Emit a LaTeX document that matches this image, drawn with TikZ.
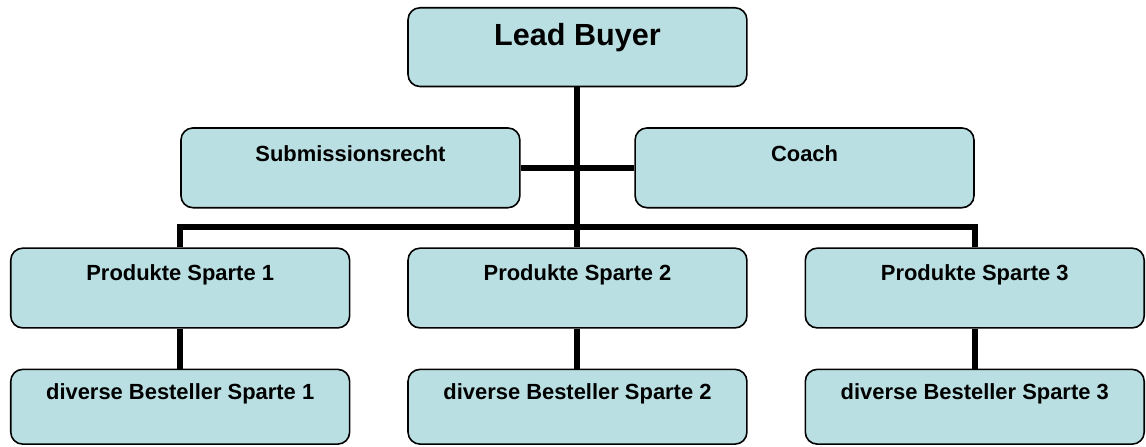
\documentclass[tikz,border=0pt]{standalone}
\usepackage{fontspec}
\setmainfont{Liberation Sans}
\usetikzlibrary{positioning}
\definecolor{OrgFill}{HTML}{B9DFE2}

\begin{document}
\begin{tikzpicture}[
  font=\bfseries\fontsize{16.5}{19}\selectfont,
  unit/.style={draw=black, line width=1.2pt, rounded corners=9pt,
               fill=OrgFill, inner sep=0pt, minimum width=255pt,
               text height=24pt, text depth=36pt},
  lead/.style={unit, font=\bfseries\fontsize{23}{26}\selectfont,
               text height=28.5pt, text depth=30.75pt},
  staff/.style={unit, text height=25.5pt, text depth=34.5pt},
  buyer/.style={unit, text height=22.5pt, text depth=33.75pt},
  link/.style={line width=4.5pt, black},
]
% product lines
\node[unit] (prod2) {Produkte Sparte 2};
\node[unit, left=42.75pt of prod2] (prod1) {Produkte Sparte 1};
\node[unit, right=42.75pt of prod2] (prod3) {Produkte Sparte 3};

% buyers
\node[buyer, below=30pt of prod1] (best1) {diverse Besteller Sparte 1};
\node[buyer, below=30pt of prod2] (best2) {diverse Besteller Sparte 2};
\node[buyer, below=30pt of prod3] (best3) {diverse Besteller Sparte 3};

% staff
\node[staff, above=29.25pt of prod1.north east] (sub) {Submissionsrecht};
\node[staff, above=29.25pt of prod3.north west] (coach) {Coach};

% top
\node[lead, above=30pt of sub.north east -| prod2.north] (lead) {Lead Buyer};

\draw[link] (lead.south) -- (prod2.north);
\draw[link] (sub.east) -- (coach.west);
\draw[link] (prod1.north) |- ([yshift=15pt]prod2.north) -| (prod3.north);
\draw[link] (prod1.south) -- (best1.north);
\draw[link] (prod2.south) -- (best2.north);
\draw[link] (prod3.south) -- (best3.north);

\path (prod1.west |- lead.north) ++(-7.5pt,5.25pt) coordinate (tl);
\useasboundingbox (tl) rectangle ([shift={(0.75pt,-1.5pt)}]best3.south east);
\end{tikzpicture}
\end{document}
